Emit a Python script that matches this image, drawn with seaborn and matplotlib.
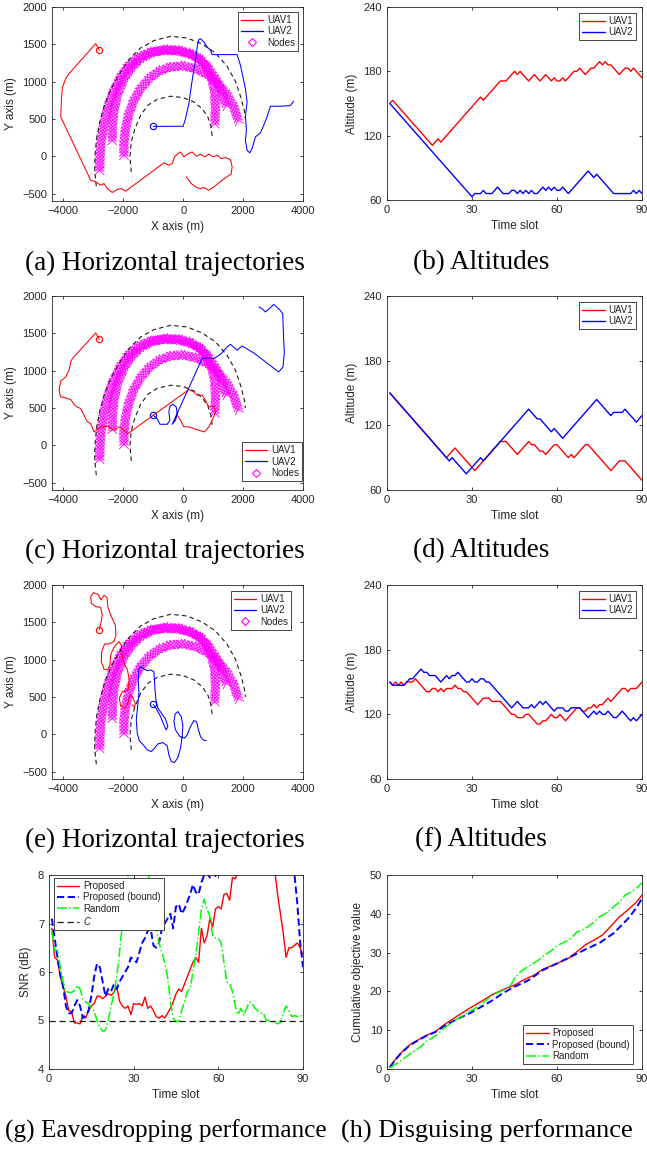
import matplotlib
matplotlib.use("Agg")
import matplotlib.pyplot as plt
from matplotlib import patheffects
from matplotlib.lines import Line2D
import seaborn as sns

# ---------------- data ----------------
# ground nodes: three arcs swept over the 90 slots (metres)
node_a_x = [-2790, -2778, -2733, -2644, -2511, -2333, -2089, -1811, -1478, -1089,
            -644, -200, 189, 522, 778, 933, 1044, 1078, 1055]
node_a_y = [-210, -9, 214, 438, 661, 862, 1063, 1219, 1330, 1397,
            1420, 1411, 1375, 1308, 1196, 1063, 884, 661, 415]
node_b_x = [-2367, -2367, -2311, -2200, -2000, -1755, -1422, -1033, -589, -144,
            244, 578, 856, 1078, 1244, 1355, 1444]
node_b_y = [192, 393, 616, 817, 1018, 1174, 1308, 1389, 1429, 1420,
            1375, 1295, 1174, 1040, 906, 772, 661]
node_c_x = [-1978, -1978, -1922, -1811, -1644, -1422, -1144, -811, -422, 0,
            411, 800, 1133, 1444, 1689, 1855]
node_c_y = [-9, 170, 371, 572, 750, 906, 1040, 1138, 1196, 1210,
            1174, 1098, 982, 839, 661, 460]

# dashed zone boundaries
zone_outer_x = [-2900, -2955, -2944, -2889, -2778, -2622, -2422, -2144, -1811, -1422,
                -978, -422, 133, 633, 1078, 1467, 1744, 1933, 2044, 2078]
zone_outer_y = [-402, -201, 22, 246, 469, 692, 893, 1094, 1295, 1451,
                1549, 1607, 1585, 1504, 1384, 1205, 1005, 781, 603, 500]
zone_inner_x = [-1733, -1778, -1733, -1611, -1422, -1178, -867, -422, 0, 356,
                633, 822, 933, 967]
zone_inner_y = [-210, -9, 192, 371, 549, 683, 763, 804, 786, 728,
                638, 527, 393, 259]

# (a) horizontal trajectories
a_uav1_x = [-2800, -2922, -3811, -3922, -4033, -4066, -4089, -3089, -2922, -2755,
            -2644, -2533, -2367, -2200, -2067, -1922, -644, -478, -367, -289,
            -200, -89, 22, 133, 300, 444, 578, 711, 856, 1000,
            1133, 1267, 1411, 1578, 1633, 1600, 1489, 1333, 1189, 1022,
            856, 689, 556, 411, 267, 100]
a_uav1_y = [1420, 1509, 1107, 1040, 920, 750, 527, -321, -343, -388,
            -366, -433, -486, -446, -433, -468, -89, -120, -98, -9,
            27, 58, -9, 27, 58, 0, 27, -9, 27, -9,
            13, -31, -18, -45, -143, -241, -268, -312, -357, -411,
            -455, -420, -437, -411, -366, -277]
a_uav2_x = [-1000, 0, 78, 189, 267, 333, 411, 467, 522, 578,
            689, 800, 911, 967, 1800, 1911, 2078, 2133, 2078, 2111,
            2078, 2133, 2222, 2300, 2411, 2578, 2689, 2800, 2911, 3244,
            3578, 3689]
a_uav2_y = [400, 402, 505, 705, 929, 1107, 1286, 1464, 1562, 1576,
            1531, 1464, 1420, 1362, 1362, 1219, 906, 728, 527, 349,
            214, 80, 45, 102, 259, 313, 416, 527, 670, 670,
            679, 737]

# (c) horizontal trajectories
c_uav1_x = [-2800, -2922, -3700, -3755, -3811, -3922, -4089, -4144, -4089, -3955,
            -3755, -3589, -3422, -3311, -3200, -3089, -2978, -2755, -2533, -2311,
            -2144, -1978, -1844, 189, 356, 467, 633, 744, 856, 1022,
            1078, 1022, 856, 711, 522, 356, 189, 22, -89, -222]
c_uav1_y = [1420, 1505, 1161, 1116, 1005, 915, 862, 737, 647, 638,
            612, 522, 491, 402, 313, 290, 179, 246, 255, 201,
            246, 201, 156, 746, 714, 670, 670, 603, 514, 523,
            446, 380, 246, 179, 201, 223, 246, 246, 335, 415]
c_uav2_x = [-1000, -867, -778, -533, -444, -478, -444, -344, -233, -200,
            -256, -367, 633, 800, 1022, 1244, 1467, 1578, 1800, 1967,
            2356, 3189, 3333, 3378, 3355, 3322, 3222, 3022, 2911, 2744,
            2633, 2522]
c_uav2_y = [400, 357, 281, 281, 335, 446, 522, 549, 513, 424,
            335, 281, 1161, 1170, 1161, 1219, 1317, 1353, 1273, 1330,
            1237, 982, 1049, 1250, 1406, 1763, 1817, 1888, 1843, 1786,
            1830, 1853]

# (e) horizontal trajectories
e_uav1_x = [-2800, -2755, -2700, -2755, -2922, -3066, -3089, -3000, -2844, -2744,
            -2644, -2544, -2511, -2400, -2266, -2244, -2311, -2478, -2622, -2722,
            -2733, -2644, -2533, -2444, -2422, -2311, -2144, -2067, -2044, -1978,
            -1866, -1800, -1844, -2033, -2133, -2089, -1955, -1844, -1778, -1689,
            -1600, -1622, -1711]
e_uav1_y = [1400, 1478, 1598, 1701, 1710, 1754, 1844, 1897, 1875, 1799,
            1862, 1835, 1701, 1576, 1464, 1330, 1241, 1210, 1210, 1107,
            973, 871, 862, 929, 1063, 1165, 1241, 1196, 1063, 951,
            871, 728, 594, 572, 482, 380, 348, 415, 527, 496,
            415, 362, 393]
e_uav2_x = [-1000, -889, -755, -644, -567, -511, -589, -722, -844, -911,
            -944, -978, -1089, -1200, -1311, -1400, -1478, -1500, -1478, -1522,
            -1567, -1533, -1467, -1333, -1200, -1066, -955, -844, -678, -533,
            -478, -400, -289, -178, -89, -33, -11, -67, -178, -267,
            -311, -256, -111, 44, 133, 244, 356, 444, 511, 578,
            667, 767]
e_uav2_y = [400, 335, 237, 125, 58, 103, 201, 281, 348, 460,
            616, 839, 862, 853, 875, 906, 884, 728, 549, 371,
            192, 13, -85, -143, -210, -232, -187, -129, -112, -156,
            -277, -366, -379, -312, -187, -31, 125, 237, 304, 272,
            170, 58, -31, -53, -9, 103, 183, 170, 58, -31,
            -76, -85]

# altitude corner points (slot, metres)
b_uav1_t = [1, 2, 16, 18, 19, 33, 34, 40, 42, 45, 46, 47, 50, 52, 54, 56, 58, 59, 60, 61,
            62, 63, 66, 67, 68, 70, 72, 73, 75, 76, 77, 78, 79, 82, 84, 85, 86, 87, 90]
b_uav1_h = [150, 153, 111, 117, 114, 156, 153, 171, 171, 180, 177, 180, 171, 177, 171, 177, 171, 174, 171, 171,
            174, 171, 180, 180, 183, 177, 183, 183, 189, 186, 189, 186, 186, 177, 183, 183, 180, 183, 174]
b_uav2_t = [1, 30, 31, 33, 34, 35, 37, 39, 41, 43, 44, 45, 46, 47, 48, 49, 50, 51, 52, 53, 55,
            56, 57, 58, 59, 60, 61, 62, 63, 64, 70, 71, 72, 73, 74, 80, 86, 87, 88, 89, 90]
b_uav2_h = [150, 63, 66, 66, 69, 66, 66, 72, 66, 66, 69, 69, 66, 69, 66, 69, 66, 69, 66, 66, 72,
            69, 72, 69, 72, 69, 69, 72, 69, 66, 84, 87, 84, 81, 84, 66, 66, 69, 66, 69, 66]

d_uav1_t = [1, 21, 24, 31, 40, 42, 46, 50, 51, 52, 54, 55, 56, 59, 60, 64, 65, 66, 70, 71, 79, 82, 84, 90]
d_uav1_h = [150, 90, 99, 78, 105, 105, 93, 105, 102, 102, 96, 96, 93, 102, 102, 90, 93, 90, 102, 102, 78, 87, 87, 69]
d_uav2_t = [1, 21, 22, 23, 28, 33, 34, 50, 51, 52, 53, 54, 58, 59, 60, 62, 74, 79, 80, 83, 84, 85, 88, 90]
d_uav2_h = [150, 90, 87, 90, 75, 90, 87, 135, 132, 129, 126, 126, 114, 117, 114, 108, 144, 129, 132, 132, 135, 132, 123, 129]

f_uav1_t = [1, 2, 3, 4, 5, 6, 7, 9, 10, 14, 15, 16, 17, 18, 19, 20, 21, 23, 24, 25, 26, 27, 28, 32, 34,
            36, 37, 40, 44, 45, 46, 48, 49, 50, 51, 53, 54, 55, 56, 58, 59, 60, 61, 63, 67, 68, 69, 70,
            71, 72, 73, 74, 75, 76, 78, 79, 83, 84, 85, 86, 88, 90]
f_uav1_h = [150, 147, 150, 147, 150, 147, 150, 150, 153, 141, 141, 144, 144, 141, 144, 141, 144, 144, 147, 144,
            144, 141, 141, 129, 135, 135, 132, 132, 120, 120, 117, 117, 120, 120, 117, 111, 111, 114, 114, 120,
            117, 117, 120, 114, 126, 126, 123, 123, 126, 126, 129, 126, 129, 129, 135, 132, 144, 144, 141, 144,
            144, 150]
f_uav2_t = [1, 2, 6, 8, 9, 12, 13, 14, 15, 17, 19, 21, 22, 23, 24, 25, 28, 29, 30, 31, 32, 33, 34, 35, 36,
            44, 46, 48, 50, 51, 52, 54, 55, 56, 59, 60, 62, 63, 64, 65, 68, 71, 73, 74, 75, 76, 77, 78, 80,
            81, 83, 86, 87, 88, 90]
f_uav2_h = [150, 147, 147, 153, 153, 162, 159, 159, 156, 156, 150, 156, 153, 156, 156, 159, 150, 150, 153, 150,
            150, 153, 153, 150, 150, 126, 132, 126, 126, 129, 126, 132, 129, 132, 123, 126, 126, 123, 123, 126,
            126, 117, 123, 120, 123, 120, 120, 123, 117, 117, 123, 114, 117, 114, 120]

# (g) eavesdropping SNR per slot (dB)
slots = list(range(1, 91))
snr_proposed = [6.9, 6.3, 6.25, 5.9, 5.7, 5.5, 5.2, 5.18, 4.95, 4.95,
                4.93, 5.1, 5.05, 5.2, 5.3, 5.35, 5.5, 5.5, 5.45, 5.5,
                5.55, 5.52, 5.58, 5.7, 5.4, 5.3, 5.25, 5.3, 5.12, 5.35,
                5.33, 5.35, 5.3, 5.48, 5.25, 5.3, 5.2, 5.08, 5.05, 5.1,
                5.05, 5.15, 5.25, 5.38, 5.55, 5.65, 5.6, 5.75, 5.9, 6.05,
                6.2, 6.3, 6.2, 6.9, 6.6, 6.75, 7.1, 6.93, 7.3, 7.35,
                7.3, 7.6, 7.62, 7.48, 7.95, 7.92, 8.1, 8.3, 8.4, 8.5,
                8.6, 8.7, 8.8, 8.9, 8.8, 8.7, 8.6, 8.5, 8.3, 8.1,
                7.6, 7.2, 6.8, 6.3, 6.5, 6.5, 6.55, 6.6, 6.5, 6.35]
snr_bound = [7.1, 6.7, 6.3, 5.95, 5.7, 5.3, 5.15, 5.15, 5.3, 5.42,
             5.3, 5.05, 5.1, 5.2, 5.5, 5.9, 6.17, 6.1, 5.8, 5.5,
             5.65, 5.6, 5.75, 5.65, 5.8, 5.9, 6.0, 6.1, 6.3, 6.25,
             6.2, 6.4, 6.6, 6.7, 6.85, 6.9, 6.55, 6.5, 6.6, 6.9,
             7.0, 7.1, 7.2, 6.9, 7.35, 7.4, 7.2, 7.3, 7.45, 7.6,
             7.8, 7.65, 7.6, 7.85, 8.0, 8.05, 7.95, 8.05, 7.98, 8.1,
             8.2, 8.3, 8.4, 8.5, 8.6, 8.7, 8.8, 8.9, 9.0, 9.0,
             9.1, 9.1, 9.0, 9.0, 8.9, 8.9, 8.8, 8.8, 8.7, 8.7,
             8.6, 8.6, 8.5, 8.4, 8.3, 8.2, 8.0, 7.4, 6.6, 6.1]
snr_random = [6.85, 6.45, 6.45, 6.1, 5.8, 5.6, 5.58, 5.58, 5.62, 5.72,
              5.65, 5.45, 5.38, 5.35, 5.25, 5.2, 5.0, 4.85, 4.78, 4.8,
              5.0, 5.3, 5.55, 5.9, 6.4, 7.0, 7.5, 8.0, 8.3, 8.5,
              8.6, 8.6, 8.5, 8.3, 8.1, 7.7, 7.2, 6.9, 6.6, 6.4,
              6.2, 5.9, 5.4, 5.05, 4.98, 4.98, 5.2, 5.4, 5.6, 5.65,
              6.0, 6.35, 6.8, 7.3, 7.5, 7.3, 7.15, 6.75, 6.7, 6.7,
              6.6, 6.2, 5.8, 5.75, 5.6, 5.3, 5.12, 5.25, 5.1, 5.25,
              5.38, 5.35, 5.25, 5.2, 5.15, 5.15, 5.0, 5.0, 4.98, 4.96,
              4.93, 4.96, 5.15, 5.3, 5.2, 5.08, 5.1, 5.08, 5.1, 5.1]
snr_threshold = 5

# (h) cumulative objective, key points
cum_prop_t = [1, 3, 5, 8, 11, 14, 17, 20, 23, 26, 29, 33, 37, 41, 45, 48, 52, 55, 60, 64,
              67, 70, 73, 76, 79, 82, 85, 88, 90]
cum_prop_v = [0.6, 2.5, 4.2, 6.2, 7.5, 8.7, 9.6, 11.3, 12.8, 14.2, 15.6, 17.3, 19.1, 20.5, 21.6,
              22.9, 24.2, 25.7, 27.2, 28.5, 30.2, 32.0, 33.2, 34.5, 36.8, 39.2, 41.0, 43.0, 44.8]
cum_bound_t = [1, 3, 5, 8, 11, 14, 17, 20, 23, 26, 29, 33, 37, 41, 45, 50, 55, 60, 65, 70,
               75, 80, 83, 85, 88, 90]
cum_bound_v = [0.4, 2.4, 4.1, 6.1, 7.4, 8.6, 9.5, 11.0, 12.2, 13.3, 14.3, 15.9, 17.6, 19.6, 21.2,
               22.9, 25.5, 27.2, 29.0, 30.8, 32.5, 35.0, 37.2, 38.7, 41.5, 44.0]
cum_rand_t = [1, 3, 5, 8, 10, 12, 14, 16, 18, 20, 23, 25, 28, 30, 33, 35, 38, 41, 43, 44,
              45, 47, 50, 53, 55, 58, 60, 63, 65, 67, 70, 73, 75, 78, 80, 82, 84, 86, 88, 90]
cum_rand_v = [0.3, 1.2, 2.2, 3.8, 4.8, 5.8, 7.2, 8.0, 9.0, 10.5, 12.0, 13.0, 14.3, 15.2, 16.5,
              17.8, 19.3, 20.3, 21.3, 22.0, 23.3, 25.0, 26.5, 27.8, 29.0, 30.5, 31.8, 32.8, 33.7,
              35.3, 36.2, 37.8, 39.2, 40.5, 41.8, 43.0, 44.8, 45.5, 46.6, 48.0]

# ---------------- styling ----------------
sns.set_theme(style="ticks")
plt.rcParams["font.family"] = ["Liberation Sans", "DejaVu Sans"]
plt.rcParams.update({
    "mathtext.fontset": "custom",
    "mathtext.it": "Liberation Sans:italic",
    "mathtext.rm": "Liberation Sans",
    "axes.edgecolor": "#262626",
    "axes.linewidth": 0.6,
    "axes.labelcolor": "#262626",
    "xtick.color": "#262626",
    "ytick.color": "#262626",
    "xtick.direction": "in",
    "ytick.direction": "in",
    "xtick.top": True,
    "ytick.right": True,
    "xtick.major.size": 2.5,
    "ytick.major.size": 2.5,
    "xtick.major.width": 0.6,
    "ytick.major.width": 0.6,
    "xtick.labelsize": 8,
    "ytick.labelsize": 8,
    "axes.labelsize": 8.5,
})

RED, BLUE, MAG, GREEN = "#FF0000", "#0000FF", "#FF00FF", "#00FF00"
W, H = 647, 1149

fig = plt.figure(figsize=(W / 100, H / 100), dpi=100)

# the node sweep is drawn as a cross-hatched band, like a chain of hollow diamonds
band_fx = [patheffects.TickedStroke(spacing=2.4, angle=a, length=1.9, linewidth=0.6, foreground=MAG)
           for a in (45, 135, -45, -135)]


def px_axes(left, top, right, bottom):
    return fig.add_axes([left / W, 1 - bottom / H, (right - left) / W, (bottom - top) / H])


def box_legend(ax, handles, labels, loc, ins_x, ins_y, box_w, box_h):
    # place legend with its corner inset by pixels from the axes corner
    fx = ins_x / box_w
    fy = ins_y / box_h
    anchor = {
        "upper right": (1 - fx, 1 - fy),
        "lower right": (1 - fx, fy),
        "upper left": (fx, 1 - fy),
    }[loc]
    leg = ax.legend(handles, labels, loc=loc, bbox_to_anchor=anchor, borderaxespad=0,
                    fontsize=7, frameon=True, fancybox=False, framealpha=1,
                    edgecolor="#262626", borderpad=0.3, labelspacing=0.15,
                    handlelength=2.3, handletextpad=0.4)
    leg.get_frame().set_linewidth(0.6)
    for t in leg.get_texts():
        t.set_color("#262626")
    return leg


def draw_map(ax, u1x, u1y, u2x, u2y):
    for nx, ny in [(node_a_x, node_a_y), (node_b_x, node_b_y), (node_c_x, node_c_y)]:
        sns.lineplot(x=nx, y=ny, sort=False, estimator=None, ax=ax, color=MAG,
                     lw=5.5, alpha=0.35, solid_capstyle="butt")
        sns.lineplot(x=nx, y=ny, sort=False, estimator=None, ax=ax, color=MAG,
                     lw=0.6, path_effects=band_fx)
    for zx, zy in [(zone_outer_x, zone_outer_y), (zone_inner_x, zone_inner_y)]:
        sns.lineplot(x=zx, y=zy, sort=False, estimator=None, ax=ax, color="k",
                     lw=0.8, dashes=(4, 3))
    sns.lineplot(x=u1x, y=u1y, sort=False, estimator=None, ax=ax, color=RED, lw=0.75)
    sns.lineplot(x=u2x, y=u2y, sort=False, estimator=None, ax=ax, color=BLUE, lw=0.75)
    ax.plot(u1x[0], u1y[0], "o", mfc="none", mec=RED, ms=4.5, mew=0.8)
    ax.plot(u2x[0], u2y[0], "o", mfc="none", mec=BLUE, ms=4.5, mew=0.8)
    ax.set_xlim(-4380, 4000)
    ax.set_ylim(-600, 2000)
    ax.set_xticks([-4000, -2000, 0, 2000, 4000])
    ax.set_yticks([-500, 0, 500, 1000, 1500, 2000])
    ax.set_xlabel("X axis (m)")
    ax.set_ylabel("Y axis (m)")


def map_handles():
    return [Line2D([], [], color=RED, lw=0.9), Line2D([], [], color=BLUE, lw=0.9),
            Line2D([], [], ls="none", marker="D", mfc="none", mec=MAG, ms=4, mew=0.8)]


def draw_alt(ax, t1, h1, t2, h2):
    sns.lineplot(x=t1, y=h1, ax=ax, color=RED, lw=1.0, estimator=None)
    sns.lineplot(x=t2, y=h2, ax=ax, color=BLUE, lw=1.0, estimator=None)
    ax.set_xlim(0, 90)
    ax.set_ylim(60, 240)
    ax.set_xticks([0, 30, 60, 90])
    ax.set_yticks([60, 120, 180, 240])
    ax.set_xlabel("Time slot")
    ax.set_ylabel("Altitude (m)")
    h = [Line2D([], [], color=RED, lw=1.0), Line2D([], [], color=BLUE, lw=1.0)]
    box_legend(ax, h, ["UAV1", "UAV2"], "upper right", 6, 6, 255, 193)


# ---- (a) ----
ax = px_axes(52, 7, 303, 201)
draw_map(ax, a_uav1_x, a_uav1_y, a_uav2_x, a_uav2_y)
box_legend(ax, map_handles(), ["UAV1", "UAV2", "Nodes"], "upper right", 5, 5, 251, 194)

# ---- (b) ----
ax = px_axes(387, 7, 642, 200)
draw_alt(ax, b_uav1_t, b_uav1_h, b_uav2_t, b_uav2_h)

# ---- (c) ----
ax = px_axes(52, 296, 303, 490)
draw_map(ax, c_uav1_x, c_uav1_y, c_uav2_x, c_uav2_y)
box_legend(ax, map_handles(), ["UAV1", "UAV2", "Nodes"], "lower right", 1, 9, 251, 194)

# ---- (d) ----
ax = px_axes(387, 296, 642, 490)
draw_alt(ax, d_uav1_t, d_uav1_h, d_uav2_t, d_uav2_h)

# ---- (e) ----
ax = px_axes(52, 585, 303, 779)
draw_map(ax, e_uav1_x, e_uav1_y, e_uav2_x, e_uav2_y)
box_legend(ax, map_handles(), ["UAV1", "UAV2", "Nodes"], "upper right", 12, 6, 251, 194)

# ---- (f) ----
ax = px_axes(387, 585, 642, 779)
draw_alt(ax, f_uav1_t, f_uav1_h, f_uav2_t, f_uav2_h)

# ---- (g) ----
ax = px_axes(49, 875, 303, 1069)
sns.lineplot(x=slots, y=snr_proposed, ax=ax, color=RED, lw=1.0)
sns.lineplot(x=slots, y=snr_bound, ax=ax, color=BLUE, lw=1.4, dashes=(3.7, 1.8))
sns.lineplot(x=slots, y=snr_random, ax=ax, color=GREEN, lw=1.1, ls="-.")
ax.axhline(snr_threshold, color="k", lw=0.9, dashes=(5, 3))
ax.set_xlim(0, 90)
ax.set_ylim(4, 8)
ax.set_xticks([0, 30, 60, 90])
ax.set_yticks([4, 5, 6, 7, 8])
ax.set_xlabel("Time slot")
ax.set_ylabel("SNR (dB)")
h = [Line2D([], [], color=RED, lw=1.0), Line2D([], [], color=BLUE, lw=1.4, dashes=(3.7, 1.8)),
     Line2D([], [], color=GREEN, lw=1.1, ls="-."), Line2D([], [], color="k", lw=0.9, dashes=(5, 3))]
box_legend(ax, h, ["Proposed", "Proposed (bound)", "Random", "$C$"], "upper left", 5, 3, 254, 194)

# ---- (h) ----
ax = px_axes(387, 875, 642, 1069)
sns.lineplot(x=cum_prop_t, y=cum_prop_v, ax=ax, color=RED, lw=1.0)
sns.lineplot(x=cum_bound_t, y=cum_bound_v, ax=ax, color=BLUE, lw=1.4, dashes=(3.7, 1.8))
sns.lineplot(x=cum_rand_t, y=cum_rand_v, ax=ax, color=GREEN, lw=1.1, ls="-.")
ax.set_xlim(0, 90)
ax.set_ylim(0, 50)
ax.set_xticks([0, 30, 60, 90])
ax.set_yticks([0, 10, 20, 30, 40, 50])
ax.set_xlabel("Time slot")
ax.set_ylabel("Cumulative objective value")
box_legend(ax, h[:3], ["Proposed", "Proposed (bound)", "Random"], "lower right", 9, 5, 255, 194)

# ---- captions ----
captions = [("(a) Horizontal trajectories", 165, 263, 19.5), ("(b) Altitudes", 481, 263, 19.5),
            ("(c) Horizontal trajectories", 165, 551, 19.5), ("(d) Altitudes", 481, 551, 19.5),
            ("(e) Horizontal trajectories", 165, 840, 19.5), ("(f) Altitudes", 481, 840, 19.5),
            ("(g) Eavesdropping performance", 166, 1131, 18.2),
            ("(h) Disguising performance", 487, 1131, 19.0)]
for txt, cx, cy, fs in captions:
    fig.text(cx / W, 1 - cy / H, txt, ha="center", va="center",
             fontsize=fs, family=["Liberation Serif", "DejaVu Serif"], color="black")

fig.savefig("out.png", dpi=100)
